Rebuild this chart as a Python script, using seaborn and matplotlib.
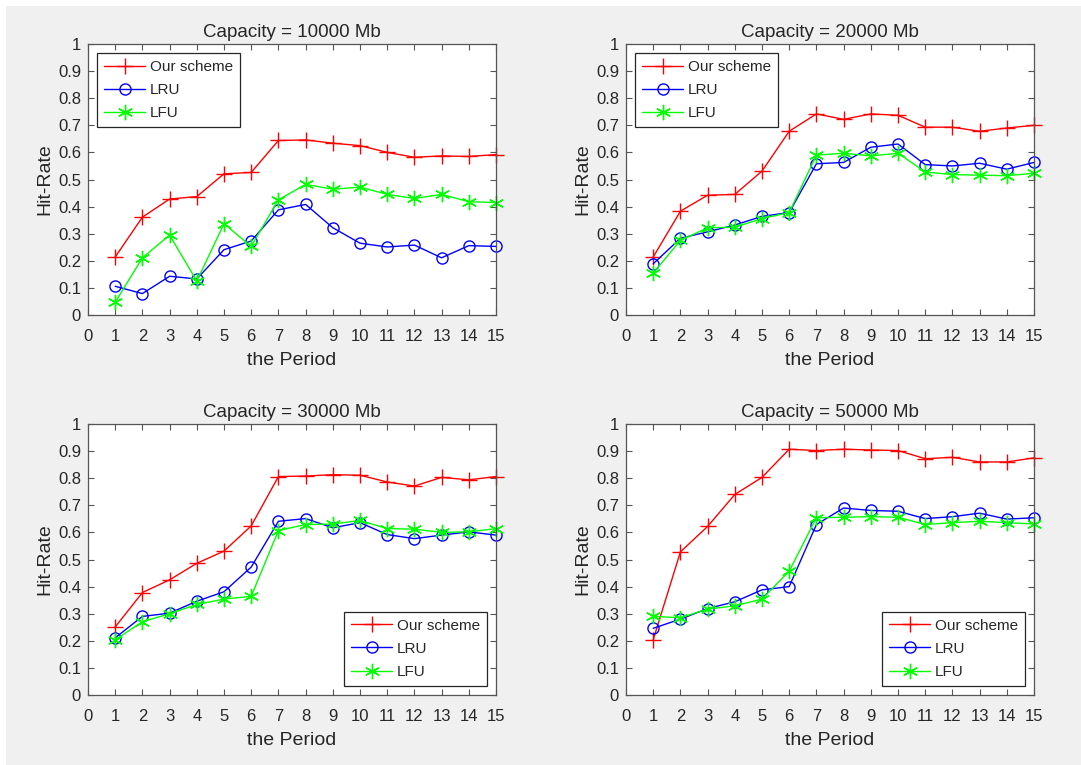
import matplotlib
matplotlib.use('Agg')
import matplotlib.pyplot as plt
import seaborn as sns
import numpy as np
from matplotlib.patches import Rectangle

periods = list(range(1, 16))
capacities = ['10000', '20000', '30000', '50000']

# hit rates, one list per scheme per capacity
ours_10k = [0.214, 0.361, 0.428, 0.437, 0.521, 0.526, 0.644, 0.646, 0.634, 0.625, 0.600, 0.582, 0.587, 0.585, 0.592]
lru_10k = [0.106, 0.079, 0.143, 0.133, 0.241, 0.273, 0.388, 0.408, 0.322, 0.265, 0.251, 0.258, 0.211, 0.256, 0.253]
lfu_10k = [0.047, 0.211, 0.295, 0.125, 0.337, 0.253, 0.425, 0.482, 0.464, 0.472, 0.445, 0.430, 0.445, 0.418, 0.415]

ours_20k = [0.214, 0.383, 0.442, 0.445, 0.531, 0.678, 0.742, 0.722, 0.742, 0.737, 0.693, 0.693, 0.678, 0.690, 0.700]
lru_20k = [0.189, 0.283, 0.307, 0.332, 0.364, 0.378, 0.558, 0.563, 0.619, 0.631, 0.555, 0.550, 0.560, 0.538, 0.563]
lfu_20k = [0.155, 0.275, 0.322, 0.324, 0.356, 0.378, 0.590, 0.597, 0.587, 0.597, 0.528, 0.518, 0.516, 0.514, 0.523]

ours_30k = [0.251, 0.378, 0.425, 0.486, 0.531, 0.624, 0.806, 0.808, 0.813, 0.811, 0.786, 0.771, 0.803, 0.794, 0.806]
lru_30k = [0.211, 0.290, 0.302, 0.346, 0.381, 0.472, 0.641, 0.651, 0.617, 0.636, 0.592, 0.577, 0.590, 0.602, 0.590]
lfu_30k = [0.204, 0.270, 0.300, 0.334, 0.354, 0.364, 0.607, 0.629, 0.631, 0.644, 0.614, 0.612, 0.600, 0.602, 0.614]

ours_50k = [0.204, 0.528, 0.622, 0.740, 0.803, 0.907, 0.902, 0.907, 0.904, 0.902, 0.872, 0.877, 0.860, 0.860, 0.875]
lru_50k = [0.246, 0.280, 0.319, 0.344, 0.388, 0.400, 0.629, 0.690, 0.681, 0.678, 0.651, 0.658, 0.671, 0.649, 0.654]
lfu_50k = [0.290, 0.285, 0.317, 0.329, 0.354, 0.457, 0.654, 0.656, 0.658, 0.656, 0.629, 0.636, 0.641, 0.636, 0.631]

panels = [
    (ours_10k, lru_10k, lfu_10k),
    (ours_20k, lru_20k, lfu_20k),
    (ours_30k, lru_30k, lfu_30k),
    (ours_50k, lru_50k, lfu_50k),
]
legend_loc = ['upper left', 'upper left', 'lower right', 'lower right']

sns.set_style('ticks')
plt.rcParams['font.family'] = ['Liberation Sans', 'DejaVu Sans']

W, H = 1081, 765
fig = plt.figure(figsize=(W / 100, H / 100), dpi=100, facecolor='white')
# gray MATLAB-like background, white strip on top and left
fig.patches.append(Rectangle((6 / W, 0), 1, 1 - 6 / H, transform=fig.transFigure,
                             facecolor='#f0f0f0', edgecolor='none', zorder=-10))

lefts = [88, 626, 88, 626]
tops = [44, 44, 424, 424]
aw, ah = 408, 271
text_col = '#262626'
asterisk = (6, 2, 0)  # MATLAB style '*'

for i, (ours, lru, lfu) in enumerate(panels):
    ax = fig.add_axes([lefts[i] / W, (H - tops[i] - ah) / H, aw / W, ah / H])
    ax.set_facecolor('white')
    sns.lineplot(x=periods, y=ours, ax=ax, color='#ff0000', marker='+', markersize=12,
                 markeredgecolor='#ff0000', markeredgewidth=1.0, linewidth=1.0,
                 label='Our scheme', clip_on=False)
    sns.lineplot(x=periods, y=lru, ax=ax, color='#0000ff', marker='o', markersize=8,
                 markerfacecolor='none', markeredgecolor='#0000ff', markeredgewidth=1.0,
                 linewidth=1.0, label='LRU', clip_on=False)
    sns.lineplot(x=periods, y=lfu, ax=ax, color='#00ff00', marker=asterisk, markersize=11,
                 markeredgecolor='#00ff00', markeredgewidth=1.0,
                 linewidth=1.0, label='LFU', clip_on=False)

    ax.set_xlim(0, 15)
    ax.set_ylim(0, 1)
    ax.set_xticks(range(0, 16))
    yt = np.round(np.arange(0, 1.01, 0.1), 1)
    ax.set_yticks(yt)
    ax.set_yticklabels(['0' if v == 0 else ('1' if v == 1 else f'{v:g}') for v in yt])
    ax.tick_params(direction='in', length=4, width=0.8, top=True, right=True,
                   colors='#555555', labelcolor=text_col, labelsize=12)
    ax.tick_params(axis='x', pad=10)
    ax.tick_params(axis='y', pad=5)
    for s in ax.spines.values():
        s.set_visible(True)
        s.set_color('#555555')
        s.set_linewidth(0.9)

    ax.set_title(f'Capacity = {capacities[i]} Mb', fontsize=13.5, color=text_col, pad=5)
    ax.set_xlabel('the Period', fontsize=14, color=text_col, labelpad=6)
    ax.set_ylabel('Hit-Rate', fontsize=14, color=text_col, labelpad=3)

    leg = ax.legend(loc=legend_loc[i], fontsize=11, frameon=True, fancybox=False,
                    framealpha=1, edgecolor='#262626', handlelength=2.7,
                    borderpad=0.45, labelspacing=0.6, handletextpad=0.3,
                    borderaxespad=0.6)
    leg.get_frame().set_linewidth(0.9)
    leg.set_zorder(5)
    for t in leg.get_texts():
        t.set_color(text_col)

fig.savefig('out.png', dpi=100, facecolor=fig.get_facecolor())
